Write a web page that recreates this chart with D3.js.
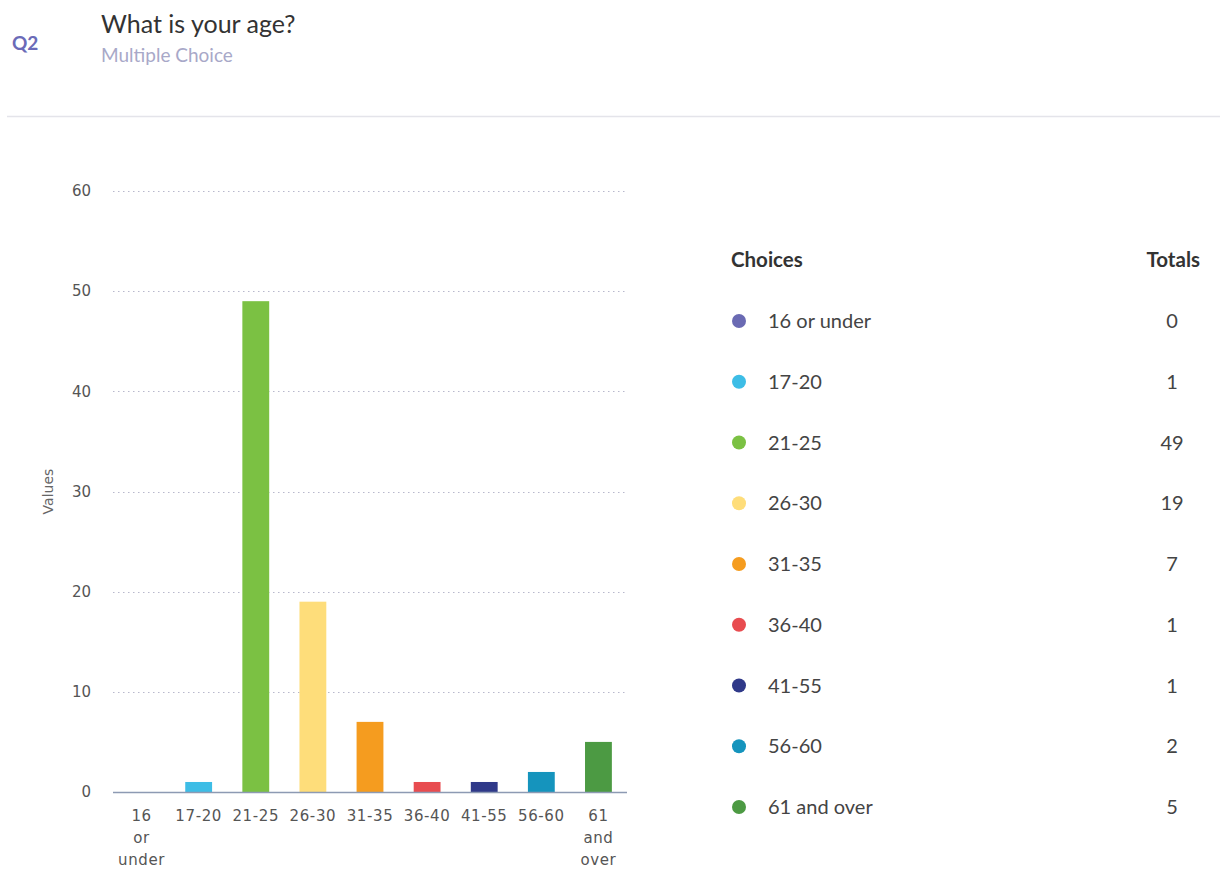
<!DOCTYPE html>
<html>
<head>
<meta charset="utf-8">
<script src="https://cdn.jsdelivr.net/npm/d3@7"></script>
<style>
  body { margin: 0; background: #fff; }
  svg { display: block; }
</style>
</head>
<body>
<svg id="chart" width="1226" height="870"></svg>
<script>
// chart data
const categories = ["16 or under", "17-20", "21-25", "26-30", "31-35", "36-40", "41-55", "56-60", "61 and over"];
const tickLines = [["16", "or", "under"], ["17-20"], ["21-25"], ["26-30"], ["31-35"], ["36-40"], ["41-55"], ["56-60"], ["61", "and", "over"]];
const totals = [0, 1, 49, 19, 7, 1, 1, 2, 5];
const colors = ["#6a6ab3", "#3dbde6", "#7bc143", "#fedd7a", "#f59c1f", "#e84c50", "#2f3989", "#1594bd", "#4c9a43"];
const yTicks = [0, 10, 20, 30, 40, 50, 60];

const svg = d3.select("#chart");
const lato = "Lato, 'Open Sans', sans-serif";
const tickFont = "'DejaVu Sans', Verdana, sans-serif";

// header
svg.append("text").attr("x", 12).attr("y", 50)
    .attr("font-family", lato).attr("font-size", 19).attr("font-weight", 700)
    .attr("fill", "#6b6bb8").text("Q2");
svg.append("text").attr("x", 101).attr("y", 33)
    .attr("font-family", lato).attr("font-size", 25)
    .attr("fill", "#333").text("What is your age?");
svg.append("text").attr("x", 101).attr("y", 62)
    .attr("font-family", lato).attr("font-size", 19)
    .attr("fill", "#a8a8c8").text("Multiple Choice");
svg.append("line").attr("x1", 7).attr("x2", 1220).attr("y1", 116.5).attr("y2", 116.5)
    .attr("stroke", "#e4e4ea").attr("stroke-width", 1.5);

// plot area
const plotLeft = 113, plotRight = 627, plotTop = 191, plotBottom = 792;

const x = d3.scaleBand()
    .domain(categories)
    .range([plotLeft, plotRight])
    .paddingInner(0.53)
    .paddingOuter(0.265);

const y = d3.scaleLinear()
    .domain([0, 60])
    .range([plotBottom, plotTop]);

// grid
svg.append("g")
    .selectAll("line")
    .data(yTicks.filter(d => d > 0))
    .join("line")
    .attr("x1", plotLeft).attr("x2", plotRight)
    .attr("y1", d => Math.round(y(d)) + 0.5).attr("y2", d => Math.round(y(d)) + 0.5)
    .attr("stroke", "#b8b8cc")
    .attr("stroke-dasharray", "1.5,3.5");

// y axis labels
const yAxis = svg.append("g")
    .attr("transform", "translate(" + (plotLeft - 22) + ",0)")
    .call(d3.axisLeft(y).tickValues(yTicks).tickSize(0).tickPadding(0));
yAxis.select(".domain").remove();
yAxis.selectAll("text")
    .attr("font-family", tickFont).attr("font-size", 15)
    .attr("fill", "#555");

svg.append("text")
    .attr("transform", "translate(53," + y(30) + ") rotate(-90)")
    .attr("text-anchor", "middle")
    .attr("font-family", tickFont).attr("font-size", 14)
    .attr("fill", "#666").text("Values");

// bars
svg.append("g")
    .selectAll("rect")
    .data(categories)
    .join("rect")
    .attr("x", d => x(d))
    .attr("width", x.bandwidth())
    .attr("y", (d, i) => y(totals[i]))
    .attr("height", (d, i) => y(0) - y(totals[i]))
    .attr("fill", (d, i) => colors[i]);

// baseline
svg.append("line")
    .attr("x1", plotLeft).attr("x2", plotRight)
    .attr("y1", plotBottom + 0.5).attr("y2", plotBottom + 0.5)
    .attr("stroke", "#8d9ab3").attr("stroke-width", 1.5);

// x labels
const xl = svg.append("g")
    .selectAll("text")
    .data(categories)
    .join("text")
    .attr("x", d => x(d) + x.bandwidth() / 2)
    .attr("y", 821)
    .attr("text-anchor", "middle")
    .attr("font-family", tickFont).attr("font-size", 15)
    .attr("letter-spacing", 0.6)
    .attr("fill", "#555");
xl.each(function(d, i) {
    const t = d3.select(this);
    tickLines[i].forEach((line, j) => {
        t.append("tspan")
            .attr("x", x(d) + x.bandwidth() / 2)
            .attr("dy", j === 0 ? 0 : 22)
            .text(line);
    });
});

// legend table
svg.append("text").attr("x", 731).attr("y", 267)
    .attr("font-family", lato).attr("font-size", 20.5).attr("font-weight", 700)
    .attr("fill", "#333").text("Choices");
svg.append("text").attr("x", 1200).attr("y", 267)
    .attr("text-anchor", "end")
    .attr("font-family", lato).attr("font-size", 20.5).attr("font-weight", 700)
    .attr("fill", "#333").text("Totals");

const rowY = d3.scaleLinear().domain([0, categories.length - 1]).range([321, 807]);

const rows = svg.append("g")
    .selectAll("g")
    .data(categories)
    .join("g")
    .attr("transform", (d, i) => "translate(0," + rowY(i) + ")");

rows.append("circle")
    .attr("cx", 739).attr("cy", 0).attr("r", 7)
    .attr("fill", (d, i) => colors[i]);
rows.append("text")
    .attr("x", 768).attr("y", 7)
    .attr("font-family", lato).attr("font-size", 20)
    .attr("fill", "#444").text(d => d);
rows.append("text")
    .attr("x", 1172).attr("y", 7)
    .attr("text-anchor", "middle")
    .attr("font-family", lato).attr("font-size", 20)
    .attr("fill", "#444").text((d, i) => totals[i]);
</script>
</body>
</html>
